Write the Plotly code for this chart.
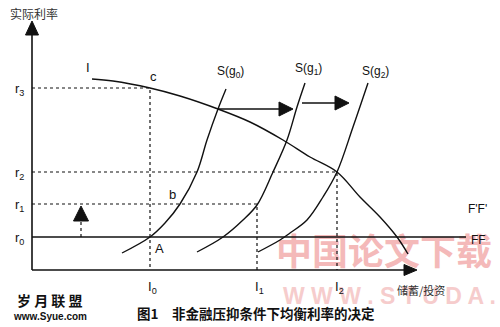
import plotly.graph_objects as go

# ---- data (abstract units: x = savings/investment, y = real interest rate) ----
r_labels = ["r<sub>0</sub>", "r<sub>1</sub>", "r<sub>2</sub>", "r<sub>3</sub>"]
r_values = [33, 66, 98, 182]
i_labels = ["I<sub>0</sub>", "I<sub>1</sub>", "I<sub>2</sub>"]
i_values = [118, 225, 305]

# investment demand curve I
inv_x = [60, 81, 118, 148, 186, 218, 251, 278, 305, 328, 348, 365, 376]
inv_y = [191, 189, 182, 174, 161, 148, 130, 113, 98, 73, 53, 33, 16]

# savings curves S(g0), S(g1), S(g2)
s0_x = [90, 118, 133, 148, 165, 175, 186, 194]
s0_y = [17, 33, 47, 66, 98, 130, 161, 181]
s1_x = [165, 191, 211, 225, 241, 255, 265, 273]
s1_y = [18, 33, 50, 65, 98, 130, 163, 187]
s2_x = [226, 248, 258, 275, 291, 305, 321, 336]
s2_y = [18, 30, 37, 50, 73, 98, 143, 187]

ff_end = 434          # FF line extends to here
x_axis_end = 385
y_axis_end = 249

# shift arrows (start, end) at given heights
shift_arrows = [((186, 161), (261, 161)), ((270, 167), (317, 167))]
rise_arrow = ((49, 33), (49, 64))

INK = "#111111"
LAT = "Liberation Sans, Arial, sans-serif"
CJK = "Noto Sans CJK SC, sans-serif"

fig = go.Figure()

# watermarks (drawn first, beneath the diagram)
fig.add_trace(go.Scatter(x=[352], y=[14], mode="text", text=["<b>中国论文下载</b>"],
                         textfont=dict(family=CJK, size=36, color="#f4b9b9"),
                         hoverinfo="skip", showlegend=False))
fig.add_trace(go.Scatter(x=[251], y=[-28], mode="text",
                         text=["<b>W W W . S T U D A .</b>"],
                         textposition="middle right",
                         textfont=dict(family=LAT, size=23, color="#f6cccc"),
                         hoverinfo="skip", showlegend=False))


def line(x, y, dash=None, width=1.4, shape="linear"):
    fig.add_trace(go.Scatter(x=x, y=y, mode="lines",
                             line=dict(color=INK, width=width, dash=dash, shape=shape, smoothing=1.0),
                             hoverinfo="skip", showlegend=False))


def head(tip, direction, length, half_width):
    tx, ty = tip
    if direction == "right":
        xs = [tx, tx - length, tx - length, tx]
        ys = [ty, ty + half_width, ty - half_width, ty]
    else:  # up
        xs = [tx, tx - half_width, tx + half_width, tx]
        ys = [ty, ty - length, ty - length, ty]
    fig.add_trace(go.Scatter(x=xs, y=ys, mode="lines", fill="toself",
                             fillcolor=INK, line=dict(color=INK, width=1),
                             hoverinfo="skip", showlegend=False))


# axes
line([0, 0], [0, y_axis_end - 12], width=1.6)
head((0, y_axis_end), "up", 14, 6.5)
line([0, x_axis_end - 12], [0, 0], width=1.6)
head((x_axis_end, 0), "right", 13, 5.5)

# FF line at r0
line([0, ff_end], [r_values[0], r_values[0]], width=1.3)

# dotted guides
dot = "dot"
line([0, i_values[0], i_values[0]], [r_values[3], r_values[3], 0], dash=dot, width=1.2)
line([0, i_values[1], i_values[1]], [r_values[1], r_values[1], 0], dash=dot, width=1.2)
line([0, i_values[2], i_values[2]], [r_values[2], r_values[2], 0], dash=dot, width=1.2)

# curves
line(inv_x, inv_y, width=1.4, shape="spline")
line(s0_x, s0_y, width=1.4, shape="spline")
line(s1_x, s1_y, width=1.4, shape="spline")
line(s2_x, s2_y, width=1.4, shape="spline")

# shift arrows
for (x0, y0), (x1, y1) in shift_arrows:
    line([x0, x1 - 12], [y0, y1], width=1.5)
    head((x1, y1), "right", 14, 7)

# rise arrow (dotted)
(ax0, ay0), (ax1, ay1) = rise_arrow
line([ax0, ax0], [ay0, ay1 - 14], dash=dot, width=1.2)
head((ax1, ay1), "up", 15, 7.5)

# ---- text ----
ann = []


def txt(x, y, s, size=12, family=LAT, color=INK, **kw):
    ann.append(dict(x=x, y=y, xref="x", yref="y", text=s, showarrow=False,
                    font=dict(family=family, size=size, color=color), **kw))


txt(2, 257, "实际利率", size=12, family=CJK, color="#333333")
for lab, v in zip(r_labels, r_values):
    txt(-13, v - 1, lab, size=13)
for lab, v in zip(i_labels, i_values):
    txt(v + 2, -17, lab, size=13)
txt(56, 203, "I", size=13)
txt(121, 194, "c", size=13)
txt(140, 76, "b", size=13)
txt(127, 22, "A", size=13)
txt(198, 198, "S(g<sub>0</sub>)", size=12)
txt(276, 201, "S(g<sub>1</sub>)", size=12)
txt(343, 198, "S(g<sub>2</sub>)", size=12)
txt(445, 61, "F'F'", size=12)
txt(446, 30, "FF", size=12)
txt(389, -20, "储蓄/投资", size=11, family=CJK, color="#333333")
txt(224, -43, "<b>图1　非金融压抑条件下均衡利率的决定</b>", size=13.5, family=CJK)
txt(18, -30, "<b>岁 月 联 盟</b>", size=14, family=CJK)
txt(18, -46, "<b>www.Syue.com</b>", size=10, family=LAT)

fig.update_layout(
    width=500, height=327,
    margin=dict(l=0, r=0, t=0, b=0),
    paper_bgcolor="white", plot_bgcolor="white",
    xaxis=dict(range=[-32, 468], visible=False, fixedrange=True),
    yaxis=dict(range=[-57, 270], visible=False, fixedrange=True),
    annotations=ann,
    showlegend=False,
)

fig.write_html("out.html")
